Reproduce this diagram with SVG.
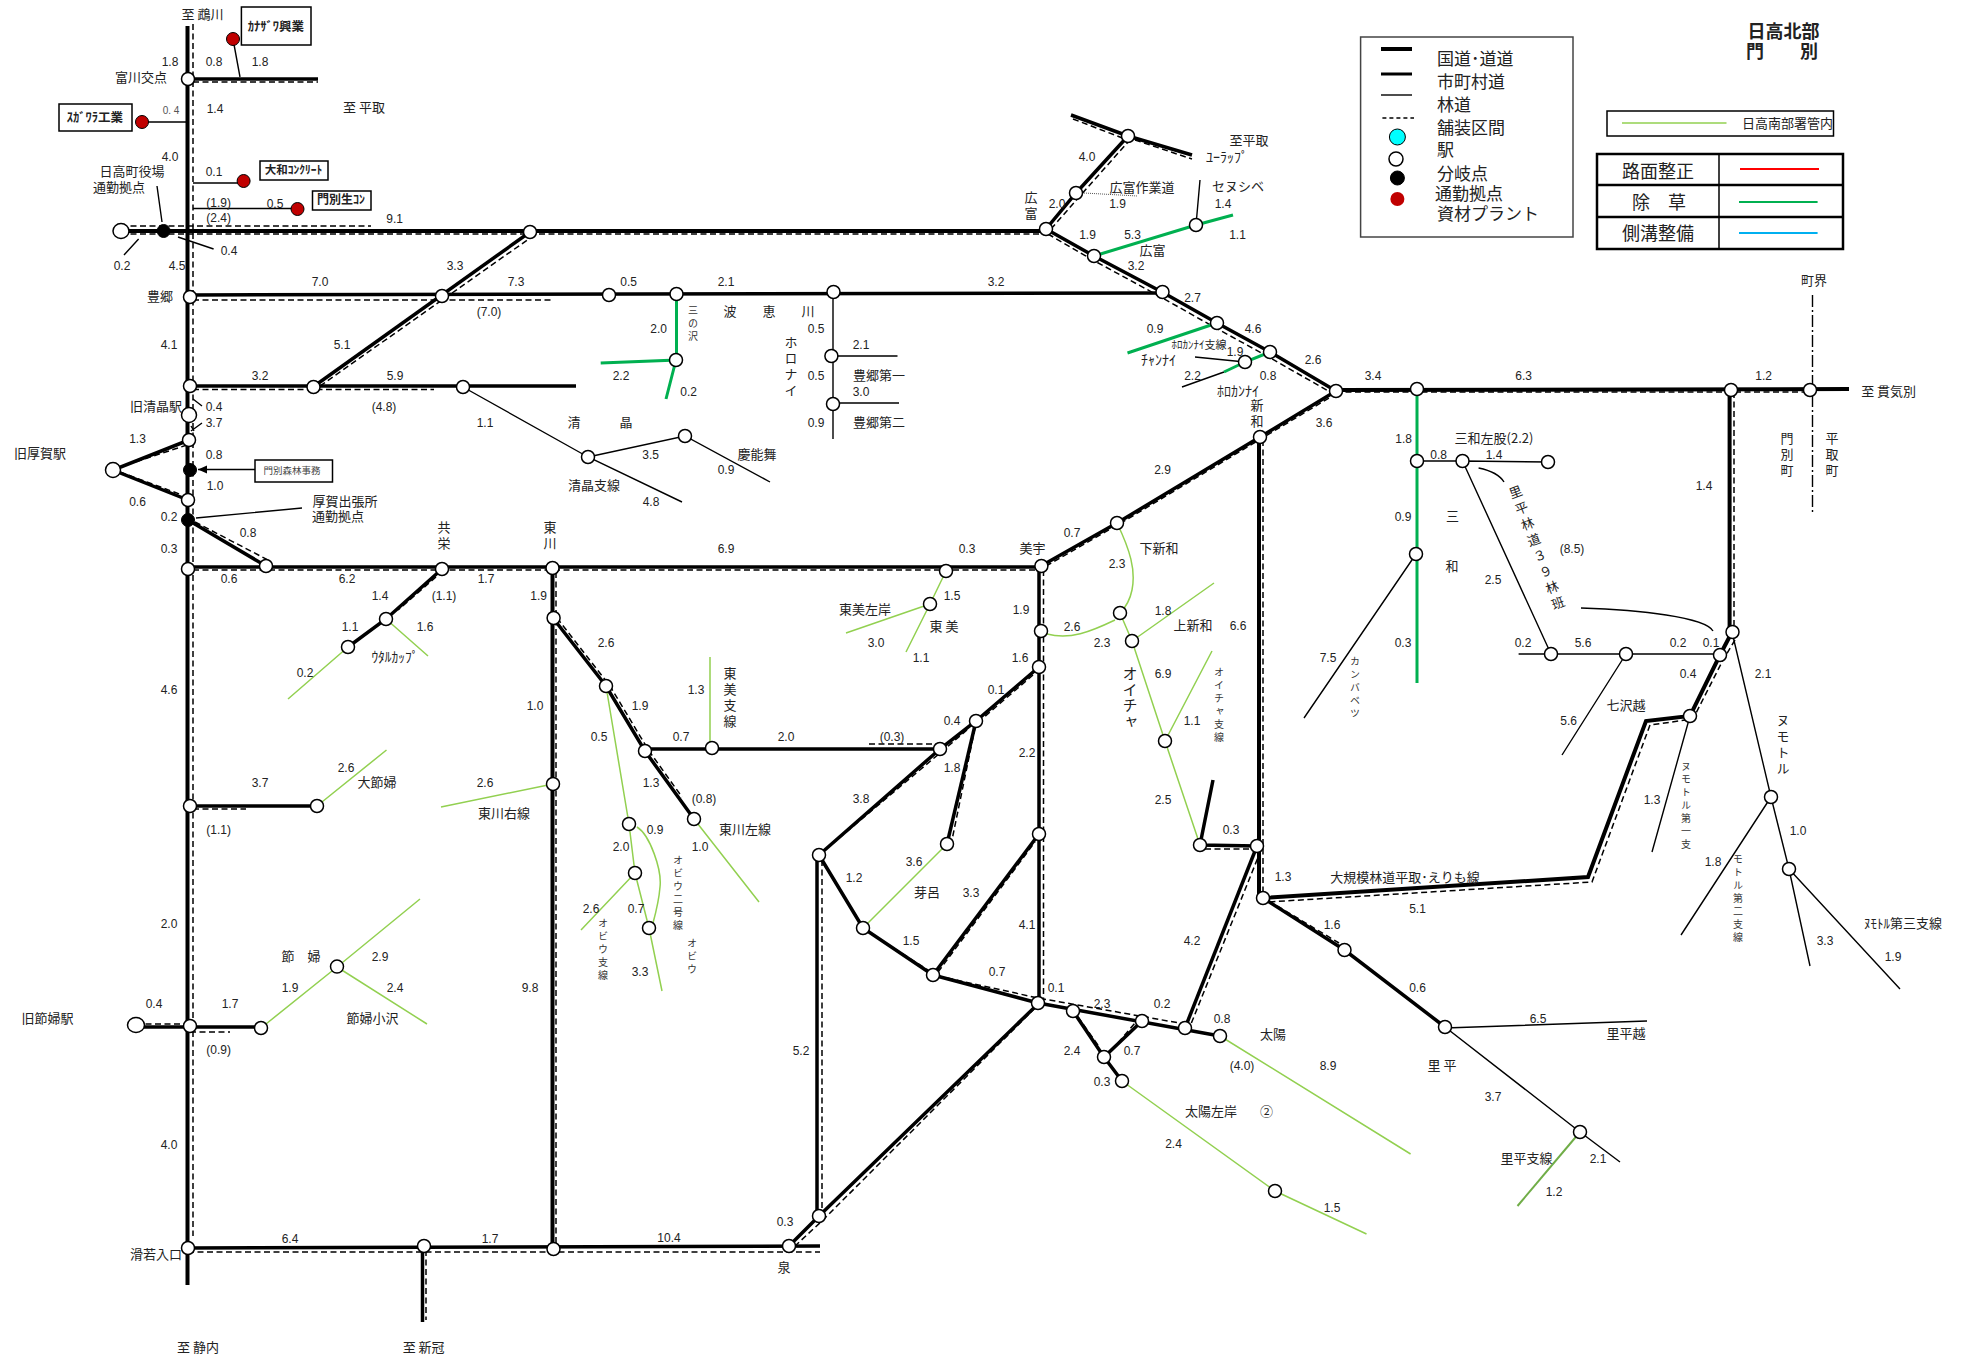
<svg xmlns="http://www.w3.org/2000/svg" width="1961" height="1357" viewBox="0 0 1961 1357">
<style>
text{font-family:"Noto Sans CJK JP","Liberation Sans",sans-serif;fill:#222;text-anchor:middle;dominant-baseline:central;font-size:13px;transform:translateY(-1.500px)}
.n{font-family:"Liberation Sans","Noto Sans CJK JP",sans-serif;font-size:12px;transform:none}
.s{font-size:11px}
.b{font-weight:bold}
.l{text-anchor:start;font-size:17px}
.t{font-size:18px}
.v{writing-mode:vertical-rl;text-orientation:upright;letter-spacing:3px;transform:none}
.vs{writing-mode:vertical-rl;text-orientation:upright;letter-spacing:3px;font-size:10px;fill:#333;transform:none}
.vb{writing-mode:vertical-rl;text-orientation:upright;letter-spacing:1px;font-size:15px;transform:none}
path{fill:none;stroke-linejoin:miter}
.r4{stroke:#000;stroke-width:4}
.r3{stroke:#000;stroke-width:3.5}
.f{stroke:#000;stroke-width:1.4}
.d{stroke:#000;stroke-width:1.5;stroke-dasharray:6 3.500}
.g{stroke:#00b050;stroke-width:3}
.lg{stroke:#92d050;stroke-width:1.5}
.st{fill:#fff;stroke:#000;stroke-width:1.5}
.bk{fill:#000;stroke:#000;stroke-width:1}
.rd{fill:#c00000;stroke:#000;stroke-width:1}
.bx{fill:#fff;stroke:#000;stroke-width:1.5}
</style>
<defs><marker id="ah" markerWidth="10" markerHeight="10" refX="9" refY="4" orient="auto" markerUnits="userSpaceOnUse"><path d="M0 0L9 4L0 8Z" style="fill:#000;stroke:none"/></marker></defs>
<rect width="1961" height="1357" fill="#fff"/>
<g id="connectors">
<path class="r4" d="M187.5 26V1285"/><path class="d" d="M193 24V1236"/>
<path class="r4" d="M121 231H1046"/><path class="d" d="M121 234H1044M121 226H371"/>
<path class="r3" d="M190 295L1162 293"/><path class="d" d="M193 300H553"/>
<path class="r3" d="M313 387L530 232"/><path class="d" d="M320 386L533 236"/>
<path class="r3" d="M190 386H576"/><path class="d" d="M193 389.500H434"/>
<path class="r3" d="M190 79H318"/><path class="d" d="M193 82H318"/>
<path class="r3" d="M189 440L113 470L188 500"/><path class="d" d="M187 445L120 467M120 472L182 495"/>
<path class="r3" d="M188 520L266 566"/><path class="d" d="M195 522L268 560"/>
<path class="r3" d="M188 567H1041"/><path class="d" d="M193 570H1040"/>
<path class="r3" d="M442 569L386 619L348 647"/><path class="d" d="M436 577L398 610"/>
<path class="r3" d="M190 806H317"/><path class="d" d="M193 809H246"/>
<path class="r4" d="M552.500 568V1249"/><path class="d" d="M556 572V1246"/>
<path class="r3" d="M553 618L606 686L645 751L694 819"/><path class="d" d="M557 618L610 686L649 751L682 797"/>
<path class="r3" d="M645 749H940"/><path class="d" d="M869 744H940"/>
<path class="r3" d="M1039 566V1003"/><path class="d" d="M1043.500 570V1000"/>
<path class="r3" d="M1041 566L1117 523L1260 437L1336 391"/><path class="d" d="M1046 566L1121 523L1264 437L1334 395"/>
<path class="r3" d="M1046 229L1094 256L1162 292L1217 323L1270 352L1336 391"/><path class="d" d="M1048 234L1091 259L1159 296L1214 327L1267 356L1330 392"/>
<path class="r3" d="M1046 229L1076 193L1128 136"/><path class="d" d="M1051 229L1080 196L1128 142"/>
<path class="r3" d="M1071 115L1128 136L1192 155"/><path class="d" d="M1073 119L1125 139M1135 140L1192 159"/>
<path class="r4" d="M1336 390L1849 389"/><path class="d" d="M1336 392H1810"/>
<path class="r4" d="M1259 437V898"/><path class="d" d="M1263 440V895"/>
<path class="r4" d="M1729.600 390V632"/><path class="d" d="M1734 392V625"/>
<path class="r4" d="M1732 632L1720 655L1690 716L1646 721L1588 877L1263 898"/><path class="d" d="M1735 640L1723 660L1693 719L1650 725L1592 882L1268 902"/>
<path class="r3" d="M1263 898L1344.500 950L1445 1027"/><path class="d" d="M1269 901L1339 943"/>
<path class="r3" d="M1213 780L1200 845L1257 846"/><path class="d" d="M1205 849H1255"/>
<path class="r3" d="M1257 846L1185 1028"/><path class="d" d="M1261 850L1191 1024"/>
<path class="r3" d="M933 975L1038 1003L1220 1036"/><path class="d" d="M938 976L1038 998L1185 1024"/>
<path class="r3" d="M1039 667L976 721L940 749L819 855"/><path class="d" d="M1033 675L983 718M967 730L940 753L825 850"/>
<path class="r3" d="M976 721L947 844"/><path class="d" d="M975 728L952 840"/>
<path class="r3" d="M819 855L863 928L933 975"/><path class="d" d="M823 863L860 922M870 933L928 970"/>
<path class="r3" d="M933 975L1039 834"/><path class="d" d="M938 972L1035 842"/>
<path class="r3" d="M1039 1003L819 1216L789 1246"/><path class="d" d="M1035 1008L823 1220L795 1246"/>
<path class="r3" d="M817 855V1216"/><path class="d" d="M822 860V1212"/>
<path class="r3" d="M188 1248L820 1246"/><path class="d" d="M188 1252H820"/>
<path class="r3" d="M422.500 1246V1322"/><path class="d" d="M426 1250V1320"/>
<path class="r3" d="M136 1027H261"/><path class="d" d="M136 1024H190M190 1032H230"/>
<path class="r3" d="M1073 1011L1104 1057L1142 1021M1104 1057L1122 1081"/><path class="d" d="M1078 1017L1100 1048M1112 1050L1135 1023"/>
<path class="f" d="M240 77L233 39M142 122H189M193 183H243M193 208.500H297M157 186L162 222M178 237L213.600 249M138.600 239L124 255M193 399L202 406M191 431L202 423M191 426L194 431M196 518L302 508"/>
<path class="f" marker-end="url(#ah)" d="M255 469.500H198"/>
<path class="f" d="M833 292V439M831.400 356H897.500M833 403H899M463 387L588 457L682 502M588 457L685 436L770 482"/>
<path class="f" d="M1416 554L1304 718M1417 461H1462.500L1548 462M1462.500 461L1551 654M1518.600 654H1720M1626 654L1562 755M1690 716L1652 852M1732 632L1771 797L1789 869L1810 966M1771 797L1681 935M1789 869L1900 989"/>
<path class="f" d="M1445 1028L1647 1021M1445 1027L1580 1132L1620 1162M1478.600 468Q1498 472 1504 482M1581 608C1640 610 1705 617 1713 631M1200 180L1196 225M1195 357L1245 362M1224 372L1182 387"/>
<path d="M1084 193L1137.500 196" stroke="#555" stroke-width="1" stroke-dasharray="1 1"/>
<path d="M1812.500 295V512" stroke="#000" stroke-width="1.400" stroke-dasharray="12 3 2 3"/>
<path class="g" d="M676.500 294V360L600.700 363M676 360L666 399M1094 256L1196 225L1233 215M1217 323L1127.500 353M1270 352L1245 362L1224 372M1417 389V683"/>
<path class="lg" d="M386 619L428 656M348 647L288 699M317 806L386.500 750M553 784L441 807M946 571L930 604L906 652M930 604L846 633M710 657V748M694 819L759 902M606 686L629 824L635 873L649 928L662 991M635 873L581 930"/>
<path class="lg" d="M637 827C650 835 662 870 660 887C659 900 656 912 653 923M947 844L863 928M1117 523C1130 550 1136 570 1132 590C1130 600 1125 608 1120 613M1115 620C1090 632 1070 640 1047 634M1120 613L1132 641L1165 741L1200 845M1132 641L1214 583M1165 741L1212 651"/>
<path class="lg" d="M261 1028L337 967L420 899M337 967L427 1024M1220 1036L1410.600 1154M1122 1081L1275 1191L1366.500 1234"/>
<path d="M1580 1132L1517.500 1206" stroke="#70ad47" stroke-width="2"/>
</g>
<g id="nodes">
<g id="n1"><circle class="st" cx="188" cy="79" r="6.500"/></g>
<g id="n2"><ellipse class="st" cx="121" cy="231" rx="8" ry="7.500"/></g>
<g id="n3"><circle class="bk" cx="163.600" cy="231" r="6.500"/></g>
<g id="n4"><circle class="st" cx="530" cy="232" r="6.500"/></g>
<g id="n5"><circle class="st" cx="190" cy="297" r="6.500"/></g>
<g id="n6"><circle class="st" cx="442" cy="296" r="6.500"/></g>
<g id="n7"><circle class="st" cx="609" cy="295" r="6.500"/></g>
<g id="n8"><circle class="st" cx="676.500" cy="294" r="6.500"/></g>
<g id="n9"><circle class="st" cx="833.500" cy="292" r="6.500"/></g>
<g id="n10"><circle class="st" cx="190" cy="386" r="6.500"/></g>
<g id="n11"><circle class="st" cx="313.500" cy="387" r="6.500"/></g>
<g id="n12"><circle class="st" cx="463" cy="387" r="6.500"/></g>
<g id="n13"><ellipse class="st" cx="189" cy="415" rx="7.500" ry="7.500"/></g>
<g id="n14"><circle class="st" cx="189" cy="440" r="6.500"/></g>
<g id="n15"><ellipse class="st" cx="113" cy="470" rx="7.500" ry="7.500"/></g>
<g id="n16"><circle class="bk" cx="190" cy="470" r="6.500"/></g>
<g id="n17"><circle class="st" cx="188" cy="500" r="6.500"/></g>
<g id="n18"><circle class="bk" cx="188" cy="520" r="6.500"/></g>
<g id="n19"><circle class="st" cx="188" cy="569" r="6.500"/></g>
<g id="n20"><circle class="st" cx="266" cy="566" r="6.500"/></g>
<g id="n21"><circle class="st" cx="442" cy="569" r="6.500"/></g>
<g id="n22"><circle class="st" cx="552.500" cy="568" r="6.500"/></g>
<g id="n23"><circle class="st" cx="386" cy="619" r="6.500"/></g>
<g id="n24"><circle class="st" cx="348" cy="647" r="6.500"/></g>
<g id="n25"><circle class="st" cx="190" cy="806" r="6.500"/></g>
<g id="n26"><circle class="st" cx="317" cy="806" r="6.500"/></g>
<g id="n27"><circle class="st" cx="553" cy="784" r="6.500"/></g>
<g id="n28"><circle class="st" cx="676" cy="360" r="6.500"/></g>
<g id="n29"><circle class="st" cx="831.400" cy="356" r="6.500"/></g>
<g id="n30"><circle class="st" cx="833" cy="404" r="6.500"/></g>
<g id="n31"><circle class="st" cx="588" cy="457" r="6.500"/></g>
<g id="n32"><circle class="st" cx="685" cy="436" r="6.500"/></g>
<g id="n33"><circle class="st" cx="946" cy="571" r="6.500"/></g>
<g id="n34"><circle class="st" cx="930" cy="604" r="6.500"/></g>
<g id="n35"><circle class="st" cx="1041.400" cy="566" r="6.500"/></g>
<g id="n36"><circle class="st" cx="1041" cy="631" r="6.500"/></g>
<g id="n37"><circle class="st" cx="1039" cy="667" r="6.500"/></g>
<g id="n38"><circle class="st" cx="553.600" cy="618" r="6.500"/></g>
<g id="n39"><circle class="st" cx="606" cy="686" r="6.500"/></g>
<g id="n40"><circle class="st" cx="645" cy="751" r="6.500"/></g>
<g id="n41"><circle class="st" cx="712" cy="748" r="6.500"/></g>
<g id="n42"><circle class="st" cx="940" cy="749" r="6.500"/></g>
<g id="n43"><circle class="st" cx="976" cy="721" r="6.500"/></g>
<g id="n44"><circle class="st" cx="694" cy="819" r="6.500"/></g>
<g id="n45"><circle class="st" cx="629" cy="824" r="6.500"/></g>
<g id="n46"><circle class="st" cx="635" cy="873" r="6.500"/></g>
<g id="n47"><circle class="st" cx="649" cy="928" r="6.500"/></g>
<g id="n48"><circle class="st" cx="947" cy="844" r="6.500"/></g>
<g id="n49"><circle class="st" cx="819" cy="855" r="6.500"/></g>
<g id="n50"><circle class="st" cx="863" cy="928" r="6.500"/></g>
<g id="n51"><circle class="st" cx="933" cy="975" r="6.500"/></g>
<g id="n52"><circle class="st" cx="1039" cy="834" r="6.500"/></g>
<g id="n53"><circle class="st" cx="1038" cy="1003" r="6.500"/></g>
<g id="n54"><circle class="st" cx="1073" cy="1011" r="6.500"/></g>
<g id="n55"><circle class="st" cx="1142" cy="1021" r="6.500"/></g>
<g id="n56"><circle class="st" cx="1185" cy="1028" r="6.500"/></g>
<g id="n57"><circle class="st" cx="1220" cy="1036" r="6.500"/></g>
<g id="n58"><circle class="st" cx="1104" cy="1057" r="6.500"/></g>
<g id="n59"><circle class="st" cx="1122" cy="1081" r="6.500"/></g>
<g id="n60"><circle class="st" cx="1263" cy="898" r="6.500"/></g>
<g id="n61"><circle class="st" cx="1344.500" cy="950" r="6.500"/></g>
<g id="n62"><circle class="st" cx="1445" cy="1027" r="6.500"/></g>
<g id="n63"><circle class="st" cx="1580" cy="1132" r="6.500"/></g>
<g id="n64"><circle class="st" cx="1275" cy="1191" r="6.500"/></g>
<g id="n65"><circle class="st" cx="1117" cy="523" r="6.500"/></g>
<g id="n66"><circle class="st" cx="1120" cy="613" r="6.500"/></g>
<g id="n67"><circle class="st" cx="1132" cy="641" r="6.500"/></g>
<g id="n68"><circle class="st" cx="1165" cy="741" r="6.500"/></g>
<g id="n69"><circle class="st" cx="1200" cy="845" r="6.500"/></g>
<g id="n70"><circle class="st" cx="1257" cy="846" r="6.500"/></g>
<g id="n71"><circle class="st" cx="1416" cy="554" r="6.500"/></g>
<g id="n72"><circle class="st" cx="1128" cy="136" r="6.500"/></g>
<g id="n73"><circle class="st" cx="1076" cy="193" r="6.500"/></g>
<g id="n74"><circle class="st" cx="1046" cy="229" r="6.500"/></g>
<g id="n75"><circle class="st" cx="1094" cy="256" r="6.500"/></g>
<g id="n76"><circle class="st" cx="1162.500" cy="292" r="6.500"/></g>
<g id="n77"><circle class="st" cx="1217" cy="323" r="6.500"/></g>
<g id="n78"><circle class="st" cx="1270" cy="352" r="6.500"/></g>
<g id="n79"><circle class="st" cx="1336" cy="391" r="6.500"/></g>
<g id="n80"><circle class="st" cx="1196" cy="225" r="6.500"/></g>
<g id="n81"><circle class="st" cx="1245" cy="362" r="6.500"/></g>
<g id="n82"><circle class="st" cx="1260" cy="437" r="6.500"/></g>
<g id="n83"><circle class="st" cx="1417" cy="389" r="6.500"/></g>
<g id="n84"><circle class="st" cx="1417" cy="461" r="6.500"/></g>
<g id="n85"><circle class="st" cx="1462.500" cy="461" r="6.500"/></g>
<g id="n86"><circle class="st" cx="1548" cy="462" r="6.500"/></g>
<g id="n87"><circle class="st" cx="1731" cy="390" r="6.500"/></g>
<g id="n88"><circle class="st" cx="1810" cy="390" r="6.500"/></g>
<g id="n89"><circle class="st" cx="1732.500" cy="632" r="6.500"/></g>
<g id="n90"><circle class="st" cx="1720" cy="655" r="6.500"/></g>
<g id="n91"><circle class="st" cx="1690" cy="716" r="6.500"/></g>
<g id="n92"><circle class="st" cx="1551" cy="654" r="6.500"/></g>
<g id="n93"><circle class="st" cx="1626" cy="654" r="6.500"/></g>
<g id="n94"><circle class="st" cx="1771" cy="797" r="6.500"/></g>
<g id="n95"><circle class="st" cx="1789" cy="869" r="6.500"/></g>
<g id="n96"><ellipse class="st" cx="136" cy="1025" rx="8.500" ry="7.500"/></g>
<g id="n97"><circle class="st" cx="190" cy="1026" r="6.500"/></g>
<g id="n98"><circle class="st" cx="261" cy="1028" r="6.500"/></g>
<g id="n99"><circle class="st" cx="337" cy="966.600" r="6.500"/></g>
<g id="n100"><circle class="st" cx="188" cy="1248" r="6.500"/></g>
<g id="n101"><circle class="st" cx="424" cy="1246" r="6.500"/></g>
<g id="n102"><circle class="st" cx="553.500" cy="1249" r="6.500"/></g>
<g id="n103"><circle class="st" cx="789" cy="1246" r="6.500"/></g>
<g id="n104"><circle class="st" cx="819" cy="1216" r="6.500"/></g>
<g id="r1"><circle class="rd" cx="233" cy="39" r="6.500"/></g>
<g id="r2"><circle class="rd" cx="142" cy="122" r="6.500"/></g>
<g id="r3"><circle class="rd" cx="243.600" cy="181" r="6.500"/></g>
<g id="r4"><circle class="rd" cx="297.500" cy="209" r="6.500"/></g>
<g id="b1"><rect class="bx" x="241.400" y="7" width="69.600" height="38"/><text class="b" x="276" y="27" style="font-size:12.500px">ｶﾅｻﾞﾜ興業</text></g>
<g id="b2"><rect class="bx" x="59" y="104" width="73" height="27"/><text class="b" x="95" y="118" style="font-size:12.500px">ｽｶﾞﾜﾗ工業</text></g>
<g id="b3"><rect class="bx" x="260" y="161" width="68" height="19"/><text class="b" x="293.600" y="170.500" style="font-size:11.500px">大和ｺﾝｸﾘｰﾄ</text></g>
<g id="b4"><rect class="bx" x="312.500" y="191" width="58.500" height="19"/><text class="b" x="341" y="200" style="font-size:12px">門別生ｺﾝ</text></g>
<g id="b5"><rect class="bx" x="255" y="460" width="77.500" height="22" stroke-width="1"/><text x="292" y="471" style="font-size:9.500px;fill:#444">門別森林事務</text></g>
</g>
<g id="labels">
<text x="202.500" y="14.500">至 鵡川</text>
<text class="n" x="170" y="62">1.8</text><text class="n" x="214" y="62">0.8</text><text class="n" x="260" y="62">1.8</text>
<text x="141" y="78">富川交点</text>
<text class="n" x="171" y="110" style="font-size:10px;fill:#555">0. 4</text><text class="n" x="215" y="109">1.4</text>
<text x="364" y="108">至 平取</text><text class="n" x="170" y="157">4.0</text>
<text x="132" y="172">日高町役場</text><text x="119" y="188">通勤拠点</text>
<text class="n" x="214" y="172">0.1</text><text class="n" x="275" y="204">0.5</text>
<text class="n" x="218.600" y="203">(1.9)</text><text class="n" x="218.600" y="218">(2.4)</text>
<text class="n" x="394.600" y="219">9.1</text><text class="n" x="229" y="251">0.4</text><text class="n" x="122" y="266">0.2</text><text class="n" x="177" y="266">4.5</text>
<text x="160" y="297">豊郷</text><text class="n" x="320" y="282">7.0</text><text class="n" x="455" y="266">3.3</text><text class="n" x="516" y="282">7.3</text><text class="n" x="628.600" y="282">0.5</text>
<text class="n" x="489" y="312">(7.0)</text><text class="n" x="169" y="345">4.1</text><text class="n" x="342" y="345">5.1</text><text class="n" x="260" y="376">3.2</text><text class="n" x="395" y="376">5.9</text>
<text x="156" y="407">旧清晶駅</text><text class="n" x="214" y="407">0.4</text><text class="n" x="214" y="423">3.7</text><text class="n" x="384" y="407">(4.8)</text><text class="n" x="485" y="423">1.1</text>
<text x="600" y="423">清　　　晶</text><text class="n" x="137.500" y="439">1.3</text>
<text x="40" y="454">旧厚賀駅</text><text class="n" x="214" y="455">0.8</text><text class="n" x="215" y="486">1.0</text><text class="n" x="137.500" y="502">0.6</text><text class="n" x="169" y="517">0.2</text>
<text x="345" y="502">厚賀出張所</text><text x="338" y="517">通勤拠点</text><text class="n" x="169" y="549">0.3</text><text class="n" x="248" y="533">0.8</text>
<text class="v" x="444" y="537">共栄</text><text class="v" x="550" y="537">東川</text>
<text class="n" x="229" y="579">0.6</text><text class="n" x="347" y="579">6.2</text><text class="n" x="486" y="579">1.7</text><text class="n" x="380" y="596">1.4</text><text class="n" x="444" y="596">(1.1)</text><text class="n" x="538.600" y="596">1.9</text>
<text class="n" x="350" y="627">1.1</text><text class="n" x="425" y="627">1.6</text><text x="395" y="657" style="font-size:13.500px">ｳﾀﾙｶｯﾌﾟ</text><text class="n" x="305" y="673">0.2</text><text class="n" x="169" y="690">4.6</text><text class="n" x="535" y="706">1.0</text>
<text class="n" x="260" y="783">3.7</text><text class="n" x="346" y="768">2.6</text><text x="377" y="783">大節婦</text><text class="n" x="485" y="783">2.6</text><text x="504" y="814">東川右線</text><text class="n" x="218.600" y="830">(1.1)</text>
<text class="n" x="726" y="282">2.1</text><text class="n" x="996" y="282">3.2</text>
<text class="vs" x="693" y="325">三の沢</text><text x="769" y="312">波　　恵　　川</text>
<text class="n" x="658.600" y="329">2.0</text><text class="n" x="816" y="329">0.5</text><text class="v" x="791" y="368">ホロナイ</text>
<text class="n" x="861" y="345">2.1</text><text class="n" x="621" y="376">2.2</text><text class="n" x="816" y="376">0.5</text><text x="879" y="376">豊郷第一</text><text class="n" x="861" y="392">3.0</text><text class="n" x="688.600" y="392">0.2</text><text class="n" x="816" y="423">0.9</text><text x="879" y="423">豊郷第二</text>
<text class="n" x="650.700" y="455">3.5</text><text x="757" y="455">慶能舞</text><text class="n" x="726" y="470">0.9</text><text x="594" y="486">清晶支線</text><text class="n" x="651" y="502">4.8</text>
<text class="n" x="726" y="549">6.9</text><text class="n" x="967" y="549">0.3</text><text x="1032.500" y="549">美宇</text><text class="n" x="1072" y="533">0.7</text><text class="n" x="952" y="596">1.5</text><text x="865" y="610">東美左岸</text><text class="n" x="1021" y="610">1.9</text><text x="944" y="627">東 美</text><text class="n" x="1072" y="627">2.6</text><text class="n" x="876" y="643">3.0</text><text class="n" x="921" y="658">1.1</text><text class="n" x="1020" y="658">1.6</text>
<text class="v" x="730" y="699">東美支線</text><text class="n" x="696" y="690">1.3</text><text class="n" x="606" y="643">2.6</text><text class="n" x="640" y="706">1.9</text><text class="n" x="599" y="737">0.5</text><text class="n" x="681" y="737">0.7</text><text class="n" x="786" y="737">2.0</text><text class="n" x="892" y="737">(0.3)</text><text class="n" x="996" y="690">0.1</text><text class="n" x="952" y="721">0.4</text><text class="n" x="952" y="768">1.8</text><text class="n" x="1027" y="753">2.2</text><text class="n" x="651" y="783">1.3</text><text class="n" x="704" y="799">(0.8)</text><text class="n" x="861" y="799">3.8</text><text class="n" x="655" y="830">0.9</text><text x="745" y="830">東川左線</text><text class="n" x="621" y="847">2.0</text><text class="n" x="700" y="847">1.0</text><text class="n" x="914" y="862">3.6</text><text class="n" x="854" y="878">1.2</text><text x="927" y="893">芽呂</text><text class="n" x="971" y="893">3.3</text>
<text class="vs" x="678" y="894">オビウ二号線</text><text class="n" x="591" y="909">2.6</text><text class="n" x="636" y="909">0.7</text><text class="vs" x="603" y="951">オビウ支線</text><text class="vs" x="692" y="958">オビウ</text><text class="n" x="911" y="941">1.5</text><text class="n" x="1027" y="925">4.1</text><text class="n" x="997" y="972">0.7</text><text class="n" x="640" y="972">3.3</text><text class="n" x="801" y="1051">5.2</text>
<text x="1159" y="549">下新和</text><text class="n" x="1117" y="564">2.3</text><text class="n" x="1163" y="611">1.8</text><text x="1193" y="626">上新和</text><text class="n" x="1238" y="626">6.6</text><text class="n" x="1102" y="643">2.3</text><text class="n" x="1328" y="658">7.5</text><text class="n" x="1403" y="643">0.3</text>
<text class="vs" x="1355" y="689">カンバベツ</text><text class="vb" x="1130" y="698">オイチャ</text><text class="n" x="1163" y="674">6.9</text><text class="vs" x="1219" y="706">オイチャ支線</text><text class="n" x="1192" y="721">1.1</text><text class="n" x="1163" y="800">2.5</text><text class="n" x="1231" y="830">0.3</text><text class="n" x="1283" y="877">1.3</text><text x="1405" y="877.500">大規模林道平取･えりも線</text>
<text class="n" x="1417.500" y="909">5.1</text><text class="n" x="1332" y="925">1.6</text><text class="n" x="1192" y="941">4.2</text><text class="n" x="1417.500" y="988">0.6</text><text class="n" x="1056" y="988">0.1</text><text class="n" x="1102" y="1004">2.3</text><text class="n" x="1162" y="1004">0.2</text><text class="n" x="1222" y="1019">0.8</text><text class="n" x="1538" y="1019">6.5</text><text x="1273" y="1035">太陽</text><text x="1626" y="1034">里平越</text>
<text class="n" x="1072" y="1051">2.4</text><text class="n" x="1132" y="1051">0.7</text><text class="n" x="1242" y="1066">(4.0)</text><text class="n" x="1328" y="1066">8.9</text><text x="1442" y="1066">里 平</text><text class="n" x="1102" y="1082">0.3</text><text class="n" x="1493" y="1097">3.7</text><text x="1211" y="1112">太陽左岸</text><text x="1266.500" y="1112">②</text><text class="n" x="1173.500" y="1144">2.4</text><text x="1526.500" y="1159">里平支線</text><text class="n" x="1598" y="1159">2.1</text><text class="n" x="1554" y="1192">1.2</text><text class="n" x="1332" y="1208">1.5</text>
<text x="1249" y="141">至平取</text><text x="1227" y="157" style="font-size:14px">ﾕｰﾗｯﾌﾟ</text><text class="n" x="1087" y="157">4.0</text><text x="1142" y="188">広富作業道</text><text x="1238" y="187">セヌシベ</text><text class="n" x="1117.500" y="204">1.9</text><text class="n" x="1223" y="204">1.4</text><text class="n" x="1057" y="204">2.0</text><text class="v" x="1031" y="207">広富</text><text class="n" x="1087.500" y="235">1.9</text><text class="n" x="1132.500" y="235">5.3</text><text class="n" x="1237.500" y="235">1.1</text><text x="1152.500" y="251">広富</text><text class="n" x="1136" y="266">3.2</text><text class="n" x="1192.500" y="298">2.7</text><text class="n" x="1155" y="329">0.9</text><text class="n" x="1253" y="329">4.6</text><text class="s" x="1199" y="345">ﾎﾛｶﾝﾅｲ支線</text><text class="n" x="1235" y="352">1.9</text><text x="1158.600" y="360" style="font-size:14px">ﾁｬﾝﾅｲ</text><text class="n" x="1313" y="360">2.6</text><text class="n" x="1192.500" y="376">2.2</text><text class="n" x="1268" y="376">0.8</text><text class="n" x="1373" y="376">3.4</text><text class="n" x="1523.600" y="376">6.3</text><text x="1238" y="391" style="font-size:14px">ﾎﾛｶﾝﾅｲ</text><text class="v" x="1257" y="415">新和</text><text class="n" x="1324" y="423">3.6</text><text class="n" x="1403.600" y="439">1.8</text><text x="1494" y="439">三和左股(2.2)</text><text class="n" x="1438.600" y="455">0.8</text><text class="n" x="1494" y="455">1.4</text><text class="n" x="1162.500" y="470">2.9</text><text x="1452.500" y="517">三</text><text class="n" x="1403" y="517">0.9</text><text x="1452" y="567">和</text>
<text class="n" x="1763.600" y="376">1.2</text><text x="1888.600" y="392">至 貫気別</text><text x="1814" y="281">町界</text><text class="v" x="1787" y="456">門別町</text><text class="v" x="1832" y="456">平取町</text><text class="n" x="1704" y="486">1.4</text><text class="n" x="1572" y="549">(8.5)</text><text class="n" x="1493" y="580">2.5</text><text class="n" x="1523" y="643">0.2</text><text class="n" x="1583" y="643">5.6</text><text class="n" x="1678" y="643">0.2</text><text class="n" x="1711" y="643">0.1</text><text class="n" x="1688" y="674">0.4</text><text class="n" x="1763" y="674">2.1</text><text class="v" x="1783" y="746">ヌモトル</text><text x="1626" y="706">七沢越</text><text class="n" x="1568.600" y="721">5.6</text><text class="n" x="1652" y="800">1.3</text><text class="vs" x="1686" y="807">ヌモトル第一支</text>
<text class="n" x="1798" y="831">1.0</text><text class="n" x="1713" y="862">1.8</text><text class="vs" x="1738" y="900">モトル第二支線</text><text x="1903" y="924">ﾇﾓﾄﾙ第三支線</text><text class="n" x="1825" y="941">3.3</text><text class="n" x="1893" y="957">1.9</text>
<g transform="translate(1537.500 549.500) rotate(-21)"><text class="v" x="0" y="0" style="letter-spacing:4px">里平林道３９林班</text></g>
<text class="n" x="169" y="924">2.0</text><text x="301" y="957">節　婦</text><text class="n" x="380" y="957">2.9</text><text class="n" x="290" y="988">1.9</text><text class="n" x="395" y="988">2.4</text><text class="n" x="530" y="988">9.8</text><text class="n" x="154" y="1004">0.4</text><text class="n" x="230" y="1004">1.7</text><text x="47.500" y="1019">旧節婦駅</text><text x="372.500" y="1019">節婦小沢</text><text class="n" x="218.600" y="1050">(0.9)</text><text class="n" x="169" y="1145">4.0</text><text class="n" x="290" y="1238.500">6.4</text><text class="n" x="490" y="1238.500">1.7</text><text class="n" x="669" y="1238">10.4</text><text class="n" x="785" y="1222">0.3</text><text x="784" y="1268">泉</text><text x="156" y="1254.600">滑若入口</text><text x="198" y="1348">至 静内</text><text x="423.600" y="1348">至 新冠</text>
</g>
<g id="legend">
<rect x="1360.600" y="37" width="212.400" height="200" fill="#fff" stroke="#444" stroke-width="1.500"/>
<path class="r4" d="M1381 49H1412"/><path class="r3" d="M1381 74H1412" style="stroke-width:3"/><path class="f" d="M1381 95H1412"/><path class="d" d="M1382.400 118H1414" style="stroke-dasharray:4 3"/>
<circle cx="1397.400" cy="137" r="8" fill="#00ffff" stroke="#000" stroke-width="1"/><circle class="st" cx="1396" cy="159" r="7"/><circle class="bk" cx="1397.400" cy="178" r="7"/><circle cx="1397.400" cy="199" r="7" fill="#c00000"/>
<text class="l" x="1437" y="59">国道･道道</text><text class="l" x="1437" y="82">市町村道</text><text class="l" x="1437" y="105">林道</text><text class="l" x="1437" y="128">舗装区間</text><text class="l" x="1437" y="150">駅</text><text class="l" x="1437" y="174">分岐点</text><text class="l" x="1435" y="194">通勤拠点</text><text class="l" x="1437" y="214">資材プラント</text>
<text class="t b" x="1783.600" y="31">日高北部</text><text class="t b" x="1782" y="51">門　　別</text>
<rect x="1607" y="111" width="226.500" height="25" fill="#fff" stroke="#000" stroke-width="1.500"/><path class="lg" d="M1622 123H1726.500"/><text x="1787.500" y="124" style="font-size:13px">日高南部署管内</text>
<rect x="1597" y="154" width="246" height="95" fill="#fff" stroke="#000" stroke-width="2.500"/><path d="M1597 185H1843M1597 217H1843" stroke="#000" stroke-width="2.500"/><path d="M1719 154V249" stroke="#000" stroke-width="1.500"/>
<text class="t" x="1658" y="171">路面整正</text><text class="t" x="1659" y="202">除　草</text><text class="t" x="1658" y="233">側溝整備</text>
<path d="M1740 169H1819" stroke="#ff0000" stroke-width="2"/><path d="M1739 202H1817.600" stroke="#00b050" stroke-width="2"/><path d="M1739 233H1817.600" stroke="#00b0f0" stroke-width="2"/>
</g>
</svg>
